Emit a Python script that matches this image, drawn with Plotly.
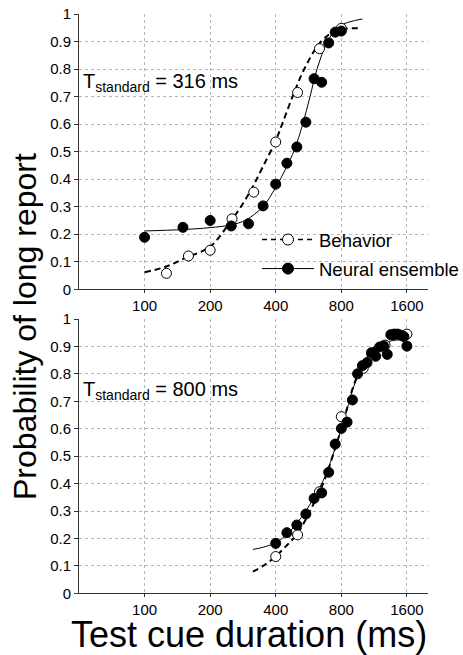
import plotly.graph_objects as go
import math

# ---------------- data ----------------
# Top panel (T_standard = 316 ms)
beh_top_x = [126, 159, 200, 252, 317, 400, 504, 635, 800]
beh_top_y = [0.058, 0.121, 0.142, 0.256, 0.353, 0.535, 0.715, 0.874, 0.948]
neu_top_x = [100, 150, 200, 250, 300, 350, 400, 450, 500, 550, 600, 650, 700, 750, 800]
neu_top_y = [0.189, 0.225, 0.250, 0.230, 0.238, 0.303, 0.382, 0.458, 0.517, 0.607,
             0.765, 0.752, 0.895, 0.934, 0.938]
# fitted curves
beh_fit_top_x = [100, 125, 155, 200, 245, 282, 314, 349, 400, 428, 478, 541, 646, 760, 960]
beh_fit_top_y = [0.062, 0.082, 0.115, 0.155, 0.24, 0.31, 0.373, 0.445, 0.54, 0.6, 0.7,
                 0.8, 0.9, 0.94, 0.948]
neu_fit_top_x = [100, 150, 200, 250, 292, 349, 400, 446, 487, 532, 575, 619, 692, 780, 1000]
neu_fit_top_y = [0.212, 0.217, 0.224, 0.234, 0.252, 0.30, 0.37, 0.44, 0.506, 0.6, 0.7,
                 0.8, 0.9, 0.955, 0.982]

# Bottom panel (T_standard = 800 ms)
beh_bot_x = [400, 504, 635, 800, 1008, 1270, 1600]
beh_bot_y = [0.134, 0.213, 0.370, 0.644, 0.820, 0.905, 0.945]
neu_bot_x = [400, 450, 500, 550, 600, 650, 700, 750, 800, 850, 900, 950, 1000, 1050,
             1100, 1150, 1200, 1250, 1300, 1350, 1400, 1450, 1500, 1550, 1600]
neu_bot_y = [0.182, 0.221, 0.249, 0.289, 0.346, 0.366, 0.441, 0.544, 0.601, 0.624,
             0.705, 0.800, 0.830, 0.841, 0.877, 0.864, 0.898, 0.902, 0.871, 0.943,
             0.945, 0.945, 0.941, 0.936, 0.901]
beh_fit_bot_x = [314, 350, 400, 450, 500, 550, 600, 660, 700, 750, 800, 850, 900, 950,
                 1000, 1100, 1200, 1350, 1600]
beh_fit_bot_y = [0.079, 0.10, 0.135, 0.175, 0.215, 0.27, 0.33, 0.40, 0.455, 0.53, 0.60,
                 0.675, 0.745, 0.795, 0.835, 0.885, 0.91, 0.925, 0.932]
neu_fit_bot_x = [314, 350, 400, 450, 500, 550, 600, 660, 700, 750, 800, 850, 900, 950,
                 1000, 1100, 1200, 1350, 1600]
neu_fit_bot_y = [0.16, 0.168, 0.185, 0.215, 0.255, 0.30, 0.35, 0.41, 0.46, 0.53, 0.60,
                 0.67, 0.74, 0.79, 0.83, 0.88, 0.905, 0.92, 0.926]

x_tickvals = [100, 200, 400, 800, 1600]
x_ticktext = ["100", "200", "400", "800", "1600"]
y_tickvals = [0, 0.1, 0.2, 0.3, 0.4, 0.5, 0.6, 0.7, 0.8, 0.9, 1]
y_ticktext = ["0", "0.1", "0.2", "0.3", "0.4", "0.5", "0.6", "0.7", "0.8", "0.9", "1"]

standard_labels = ["T<sub>standard</sub> = 316 ms", "T<sub>standard</sub> = 800 ms"]
legend_names = ["Behavior", "Neural ensemble"]
x_title = "Test cue duration (ms)"
y_title = "Probability of long report"

# ---------------- figure ----------------
FONT = "Liberation Sans, Arial, Helvetica, sans-serif"
W, H = 463, 655
fig = go.Figure()

open_marker = dict(symbol="circle", size=10, color="white", line=dict(color="black", width=1))
fill_marker = dict(symbol="circle", size=10, color="black", line=dict(color="black", width=1))

panels = [
    ("x", "y", beh_fit_top_x, beh_fit_top_y, neu_fit_top_x, neu_fit_top_y,
     beh_top_x, beh_top_y, neu_top_x, neu_top_y),
    ("x2", "y2", beh_fit_bot_x, beh_fit_bot_y, neu_fit_bot_x, neu_fit_bot_y,
     beh_bot_x, beh_bot_y, neu_bot_x, neu_bot_y),
]
for xa, ya, bfx, bfy, nfx, nfy, bx, by, nx, ny in panels:
    fig.add_trace(go.Scatter(x=bfx, y=bfy, mode="lines", xaxis=xa, yaxis=ya,
                             line=dict(color="black", width=2, dash="6px,4px", shape="spline"),
                             showlegend=False, hoverinfo="skip"))
    fig.add_trace(go.Scatter(x=nfx, y=nfy, mode="lines", xaxis=xa, yaxis=ya,
                             line=dict(color="black", width=1, shape="spline"),
                             showlegend=False, hoverinfo="skip"))
    fig.add_trace(go.Scatter(x=bx, y=by, mode="markers", xaxis=xa, yaxis=ya,
                             marker=open_marker, showlegend=False, cliponaxis=False))
    fig.add_trace(go.Scatter(x=nx, y=ny, mode="markers", xaxis=xa, yaxis=ya,
                             marker=fill_marker, showlegend=False, cliponaxis=False))

# legend-only entries
fig.add_trace(go.Scatter(x=[None], y=[None], mode="lines+markers", name=legend_names[0],
                         line=dict(color="black", width=1.5, dash="5px,4px"),
                         marker=dict(open_marker, size=11), legendgroup="a"))
fig.add_trace(go.Scatter(x=[None], y=[None], mode="lines+markers", name=legend_names[1],
                         line=dict(color="black", width=1),
                         marker=dict(fill_marker, size=11), legendgroup="b"))

xdom = [79 / W, 428 / W]
ydom_top = [(H - 289.3) / H, (H - 14) / H]
ydom_bot = [(H - 593.3) / H, (H - 319) / H]

common_x = dict(type="log", range=[math.log10(50), math.log10(2000)],
                tickvals=x_tickvals, ticktext=x_ticktext,
                showgrid=True, gridcolor="#b5b5b5", griddash="dot", gridwidth=1,
                showline=True, linecolor="#333", linewidth=1,
                ticks="outside", ticklen=3, tickcolor="#333",
                tickfont=dict(family=FONT, size=15, color="black"),
                zeroline=False, automargin=False, domain=xdom)
common_y = dict(range=[0, 1], tickvals=y_tickvals, ticktext=y_ticktext,
                showgrid=True, gridcolor="#b5b5b5", griddash="dot", gridwidth=1,
                showline=True, linecolor="#333", linewidth=1,
                ticks="outside", ticklen=4, tickcolor="#333",
                tickfont=dict(family=FONT, size=15, color="black"),
                zeroline=False, automargin=False)

fig.update_layout(
    width=W, height=H,
    margin=dict(l=0, r=0, t=0, b=0, autoexpand=False),
    paper_bgcolor="white", plot_bgcolor="white",
    font=dict(family=FONT, color="black"),
    xaxis=dict(common_x, anchor="y"),
    yaxis=dict(common_y, domain=ydom_top, anchor="x"),
    xaxis2=dict(common_x, anchor="y2"),
    yaxis2=dict(common_y, domain=ydom_bot, anchor="x2"),
    showlegend=True,
    legend=dict(x=257 / W, y=(H - 221) / H, xanchor="left", yanchor="top",
                bgcolor="rgba(0,0,0,0)", borderwidth=0,
                font=dict(family=FONT, size=18.5, color="black"),
                tracegroupgap=2, itemsizing="trace", itemwidth=52),
    annotations=[
        dict(text=standard_labels[0], xref="paper", yref="paper",
             x=81 / W, y=(H - 83) / H, xanchor="left", yanchor="middle",
             showarrow=False, font=dict(family=FONT, size=20, color="black")),
        dict(text=standard_labels[1], xref="paper", yref="paper",
             x=81 / W, y=(H - 390) / H, xanchor="left", yanchor="middle",
             showarrow=False, font=dict(family=FONT, size=20, color="black")),
        dict(text=x_title, xref="paper", yref="paper",
             x=249 / W, y=0, xanchor="center", yanchor="bottom", yshift=-2,
             showarrow=False, font=dict(family=FONT, size=36, color="black")),
        dict(text=y_title, xref="paper", yref="paper", textangle=-90,
             x=25 / W, y=(H - 327) / H, xanchor="center", yanchor="middle",
             showarrow=False, font=dict(family=FONT, size=32, color="black")),
    ],
)

fig.write_html(
    "out.html",
    config={"displayModeBar": False},
    post_script="document.body.style.margin='0';document.body.style.overflow='hidden';",
)
